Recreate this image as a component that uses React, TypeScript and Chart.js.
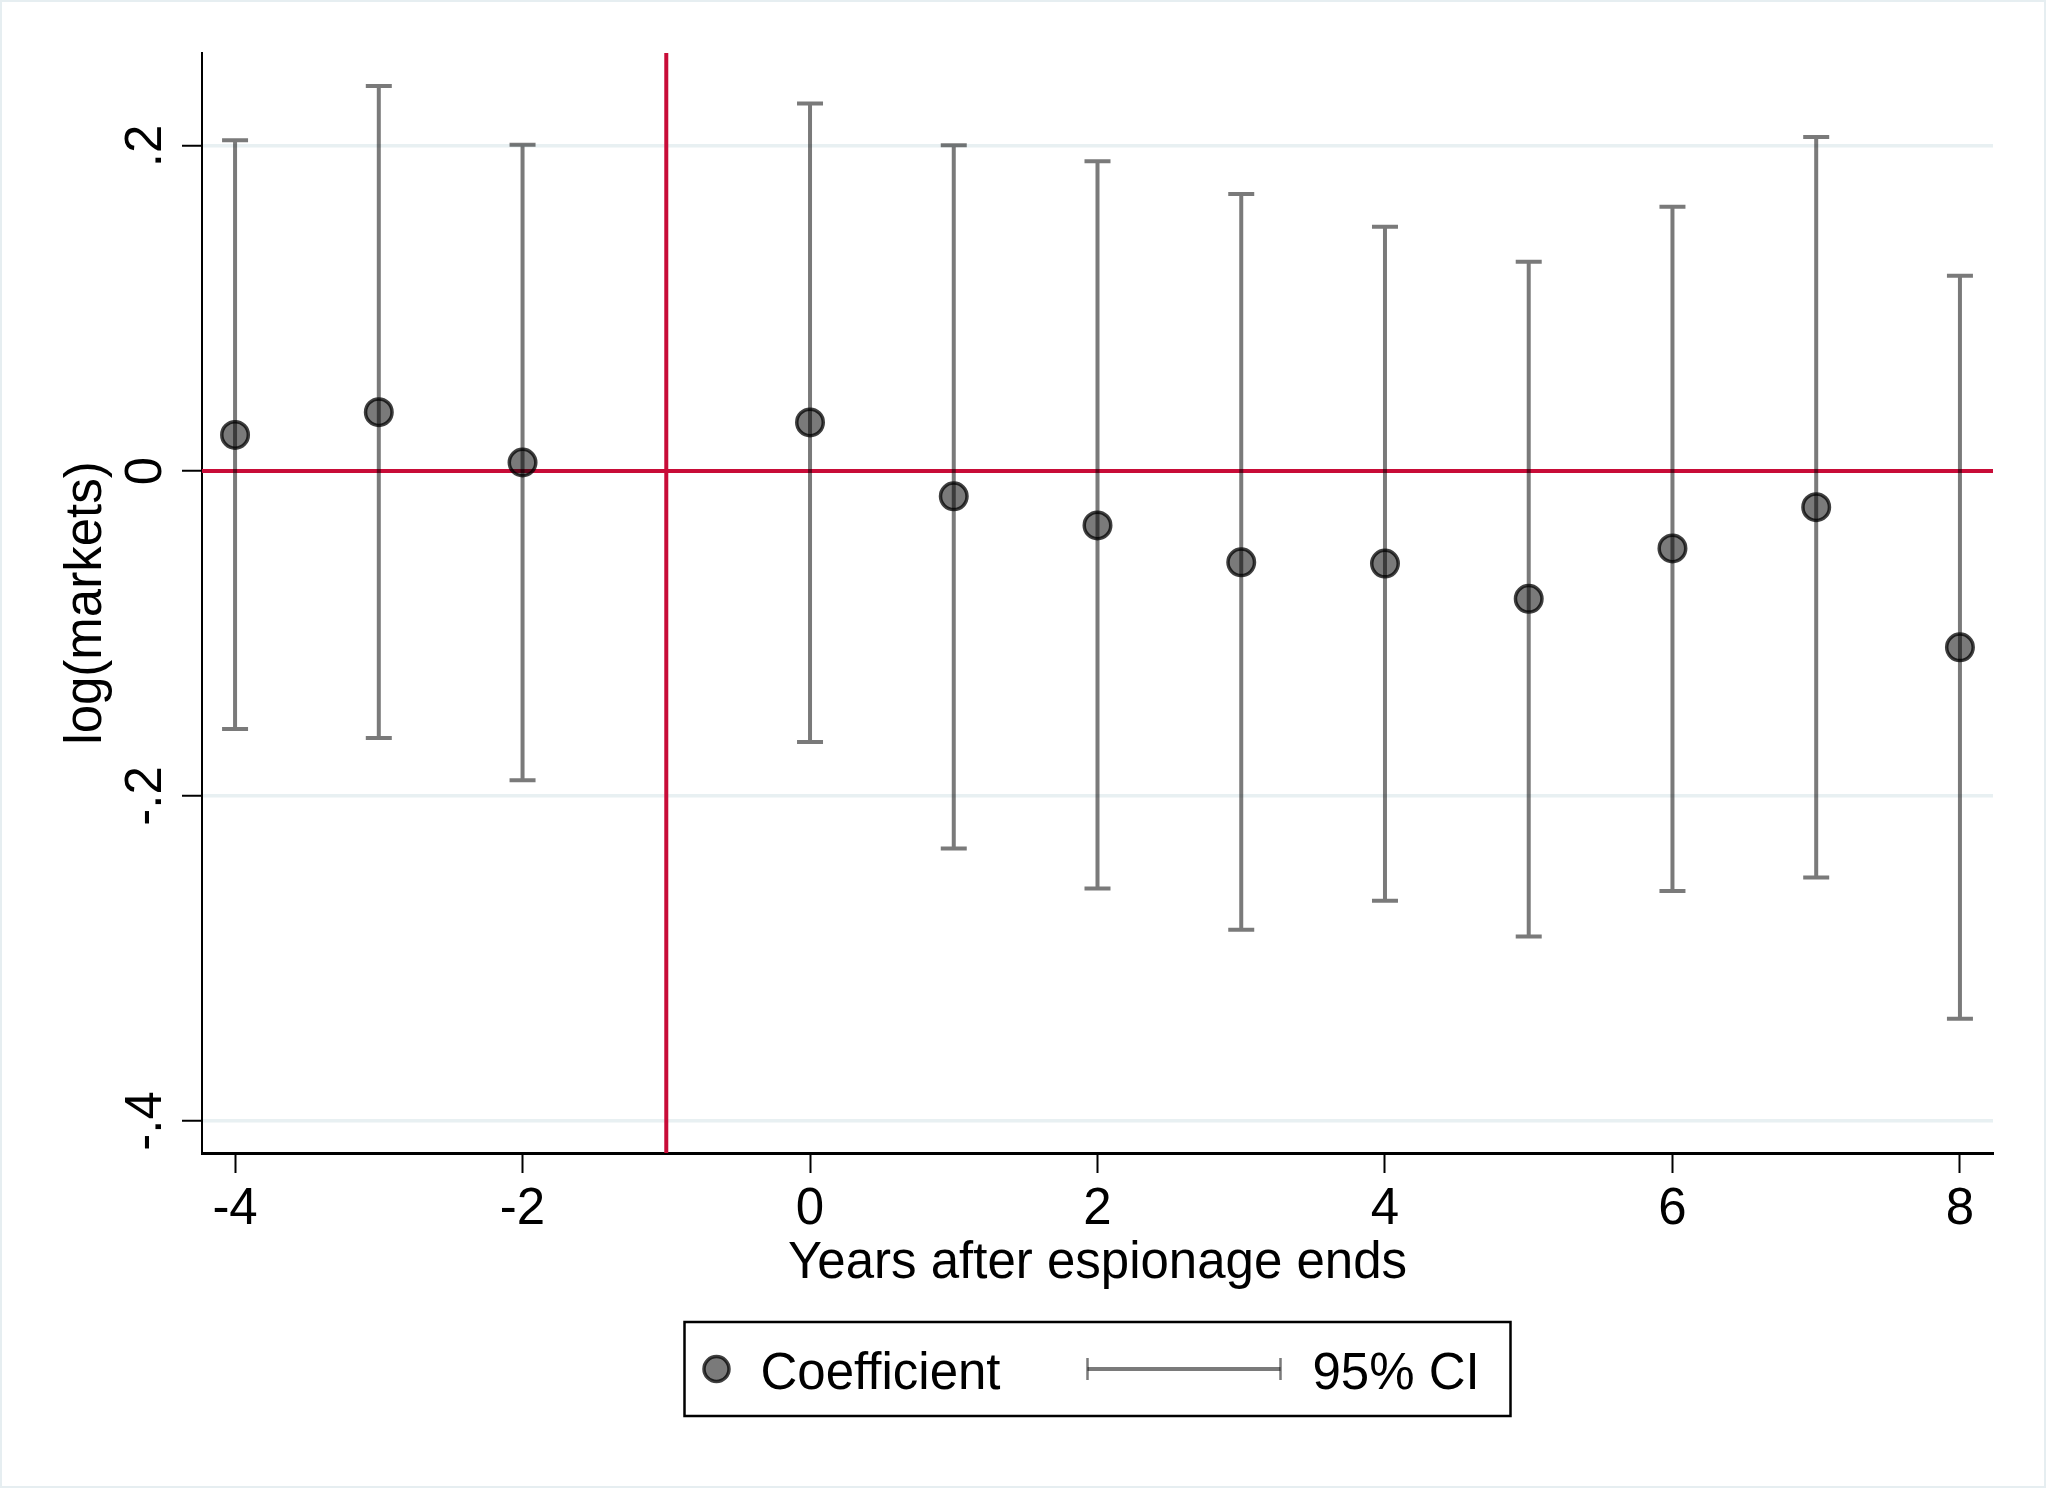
import React, { useEffect, useRef } from "react";
import { Chart, registerables } from "chart.js";

Chart.register(...registerables);

const years = [-4, -3, -2, 0, 1, 2, 3, 4, 5, 6, 7, 8];
const coef = [0.0222, 0.0362, 0.0052, 0.0299, -0.0156, -0.0335, -0.0562, -0.057, -0.0787, -0.0477, -0.0223, -0.1085];
const ciUpper = [0.2035, 0.2369, 0.2008, 0.2261, 0.2005, 0.1906, 0.1705, 0.1503, 0.1287, 0.1626, 0.2055, 0.1201];
const ciLower = [-0.1588, -0.1644, -0.1903, -0.1668, -0.2323, -0.257, -0.2823, -0.2644, -0.2864, -0.2584, -0.2502, -0.3371];
const xTicks = [-4, -2, 0, 2, 4, 6, 8];
const yTicks = [-0.4, -0.2, 0, 0.2];
const yTickLabels = ["-.4", "-.2", "0", ".2"];
const refX = -1;
const refY = 0;
const xTitle = "Years after espionage ends";
const yTitle = "log(markets)";
const legendLabels = ["Coefficient", "95% CI"];

const FONT = '"Liberation Sans", Arial, Helvetica, sans-serif';
const RED = "rgb(200,12,56)";
const BAR = "rgba(0,0,0,0.52)";
const PT_FILL = "rgba(0,0,0,0.52)";
const PT_BORDER = "rgba(0,0,0,0.75)";

const customPlugin = {
  id: "custom",
  beforeDatasetsDraw(chart: any) {
    const { ctx, chartArea } = chart;
    const xs = chart.scales.x;
    const ys = chart.scales.y;
    ctx.save();
    // reference lines
    ctx.strokeStyle = RED;
    ctx.lineWidth = 4;
    const px = xs.getPixelForValue(refX);
    const py = ys.getPixelForValue(refY);
    ctx.beginPath();
    ctx.moveTo(chartArea.left, py);
    ctx.lineTo(chartArea.right, py);
    ctx.moveTo(px, chartArea.top);
    ctx.lineTo(px, chartArea.bottom);
    ctx.stroke();
    // error bars
    ctx.strokeStyle = BAR;
    ctx.lineWidth = 4;
    ctx.lineCap = "butt";
    const cap = 13;
    for (let i = 0; i < years.length; i++) {
      const x = xs.getPixelForValue(years[i]);
      const yu = ys.getPixelForValue(ciUpper[i]);
      const yl = ys.getPixelForValue(ciLower[i]);
      ctx.beginPath();
      ctx.moveTo(x, yu);
      ctx.lineTo(x, yl);
      ctx.moveTo(x - cap, yu);
      ctx.lineTo(x + cap, yu);
      ctx.moveTo(x - cap, yl);
      ctx.lineTo(x + cap, yl);
      ctx.stroke();
    }
    ctx.restore();
  },
  afterDraw(chart: any) {
    const { ctx, chartArea } = chart;
    const ys = chart.scales.y;
    ctx.save();
    // faint outer frame
    ctx.strokeStyle = "#e6eef1";
    ctx.lineWidth = 2;
    ctx.strokeRect(1, 1, chart.width - 2, chart.height - 2);
    // rotated y tick labels
    ctx.fillStyle = "#000";
    ctx.font = `51px ${FONT}`;
    ctx.textAlign = "center";
    ctx.textBaseline = "alphabetic";
    for (let i = 0; i < yTicks.length; i++) {
      const y = ys.getPixelForValue(yTicks[i]);
      ctx.save();
      ctx.translate(161, y);
      ctx.rotate(-Math.PI / 2);
      ctx.fillText(yTickLabels[i], 0, 0);
      ctx.restore();
    }
    // legend
    const cx = (chartArea.left + chartArea.right) / 2;
    const bw = 826;
    const bh = 94;
    const bx = cx - bw / 2;
    const by = 1322;
    const cy = by + bh / 2;
    ctx.strokeStyle = "#000";
    ctx.lineWidth = 2.5;
    ctx.strokeRect(bx, by, bw, bh);
    // marker
    ctx.beginPath();
    ctx.arc(bx + 32, cy, 12.5, 0, Math.PI * 2);
    ctx.fillStyle = PT_FILL;
    ctx.fill();
    ctx.lineWidth = 3.5;
    ctx.strokeStyle = PT_BORDER;
    ctx.stroke();
    ctx.fillStyle = "#000";
    ctx.textAlign = "left";
    ctx.fillText(legendLabels[0], bx + 76, cy + 20);
    // CI sample
    const lx0 = bx + 403;
    const lx1 = bx + 596;
    ctx.strokeStyle = BAR;
    ctx.lineWidth = 4;
    ctx.beginPath();
    ctx.moveTo(lx0, cy);
    ctx.lineTo(lx1, cy);
    ctx.stroke();
    ctx.lineWidth = 2.5;
    ctx.beginPath();
    ctx.moveTo(lx0, cy - 11);
    ctx.lineTo(lx0, cy + 11);
    ctx.moveTo(lx1, cy - 11);
    ctx.lineTo(lx1, cy + 11);
    ctx.stroke();
    ctx.fillStyle = "#000";
    ctx.fillText(legendLabels[1], bx + 628, cy + 20);
    ctx.restore();
  },
};

export default function App() {
  const ref = useRef<HTMLCanvasElement | null>(null);
  useEffect(() => {
    if (!ref.current) return;
    const chart = new Chart(ref.current, {
      type: "scatter",
      data: {
        datasets: [
          {
            label: legendLabels[0],
            data: years.map((x, i) => ({ x, y: coef[i] })),
            pointRadius: 13.25,
            pointHoverRadius: 13.25,
            pointBackgroundColor: PT_FILL,
            pointBorderColor: PT_BORDER,
            pointBorderWidth: 3.5,
            showLine: false,
          },
        ],
      },
      plugins: [customPlugin],
      options: {
        animation: false,
        responsive: true,
        maintainAspectRatio: false,
        devicePixelRatio: 1,
        events: [],
        layout: { padding: { left: 0, right: 53, top: 53, bottom: 0 } },
        plugins: {
          legend: { display: false },
          tooltip: { enabled: false },
        },
        scales: {
          x: {
            type: "linear",
            position: "bottom",
            min: -4.23,
            max: 8.23,
            afterBuildTicks: (s: any) => {
              s.ticks = xTicks.map((v) => ({ value: v }));
            },
            afterFit: (s: any) => {
              s.height = 335;
            },
            ticks: {
              color: "#000",
              font: { family: FONT, size: 51 },
              padding: 6,
              maxRotation: 0,
              minRotation: 0,
              callback: (v: any) => String(v),
            },
            grid: {
              drawOnChartArea: false,
              drawTicks: true,
              tickLength: 20,
              tickWidth: 2,
              tickColor: "#000",
            },
            border: { display: true, color: "#000", width: 3 },
            title: {
              display: true,
              text: xTitle,
              color: "#000",
              font: { family: FONT, size: 51 },
              padding: { top: 0, bottom: 193 },
            },
          },
          y: {
            type: "linear",
            position: "left",
            min: -0.4197,
            max: 0.2572,
            afterBuildTicks: (s: any) => {
              s.ticks = yTicks.map((v) => ({ value: v }));
            },
            afterFit: (s: any) => {
              s.width = 202;
            },
            ticks: { display: false },
            grid: {
              drawOnChartArea: true,
              color: "#e8f0f2",
              lineWidth: 3.5,
              drawTicks: true,
              tickLength: 20,
              tickWidth: 2,
              tickColor: "#000",
            },
            border: { display: true, color: "#000", width: 2 },
            title: {
              display: true,
              text: yTitle,
              color: "#000",
              font: { family: FONT, size: 51 },
              padding: { top: 56, bottom: 0 },
            },
          },
        },
      },
    } as any);
    return () => chart.destroy();
  }, []);
  return (
    <div style={{ position: "fixed", left: 0, top: 0, width: 2046, height: 1488, background: "#fff" }}>
      <canvas ref={ref} />
    </div>
  );
}
